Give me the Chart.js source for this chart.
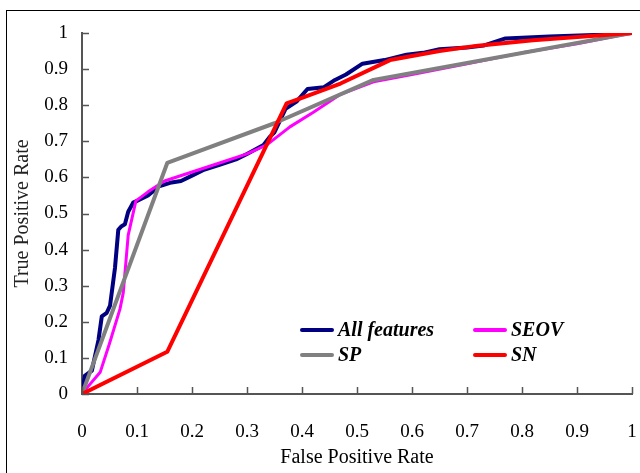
<!DOCTYPE html>
<html>
<head>
<meta charset="utf-8">
<script src="https://cdn.jsdelivr.net/npm/chart.js@4.4.1/dist/chart.umd.min.js"></script>
<style>
  html, body { margin: 0; padding: 0; background: #fff; }
  #wrap { width: 640px; height: 473px; position: relative; }
</style>
</head>
<body>
<div id="wrap"><canvas id="rocChart" width="640" height="473"></canvas></div>
<script>
// ROC curves, values
const allFpr = [0, 0.005, 0.018, 0.03, 0.036, 0.045, 0.051, 0.06, 0.066, 0.072, 0.078, 0.084, 0.093, 0.1,
  0.12, 0.14, 0.16, 0.18, 0.2, 0.22, 0.25, 0.28, 0.3, 0.33, 0.342, 0.35, 0.37, 0.39, 0.41, 0.44, 0.46, 0.48,
  0.51, 0.55, 0.59, 0.62, 0.65, 0.7, 0.73, 0.77, 0.85, 0.94, 1];
const allTpr = [0, 0.05, 0.065, 0.15, 0.215, 0.225, 0.245, 0.35, 0.455, 0.465, 0.47, 0.505, 0.53, 0.535,
  0.55, 0.575, 0.585, 0.59, 0.605, 0.62, 0.635, 0.65, 0.665, 0.69, 0.713, 0.725, 0.79, 0.81, 0.845, 0.85, 0.87, 0.885,
  0.915, 0.925, 0.94, 0.945, 0.955, 0.96, 0.965, 0.985, 0.99, 0.995, 1];

const seovFpr = [0, 0.005, 0.033, 0.05, 0.069, 0.075, 0.084, 0.098, 0.12, 0.15, 0.2, 0.25, 0.3, 0.336,
  0.378, 0.42, 0.47, 0.53, 0.6, 0.7, 0.8, 0.9, 1];
const seovTpr = [0, 0.01, 0.06, 0.14, 0.235, 0.28, 0.44, 0.535, 0.56, 0.59, 0.615, 0.64, 0.665, 0.69,
  0.74, 0.78, 0.83, 0.865, 0.885, 0.915, 0.945, 0.97, 1];

const spFpr = [0, 0.155, 0.35, 0.53, 1];
const spTpr = [0, 0.64, 0.75, 0.87, 1];

const snFpr = [0, 0.155, 0.372, 0.4, 0.47, 0.56, 0.65, 0.72, 0.82, 1];
const snTpr = [0, 0.117, 0.805, 0.82, 0.86, 0.925, 0.95, 0.965, 0.98, 1];

const tickLabels = ["0", "0.1", "0.2", "0.3", "0.4", "0.5", "0.6", "0.7", "0.8", "0.9", "1"];

function pts(xs, ys) {
  return xs.map((x, i) => ({ x: x, y: ys[i] }));
}

const serif = "'Liberation Serif', 'Times New Roman', serif";

// outer frame of the figure
const framePlugin = {
  id: "frame",
  beforeDraw(chart) {
    const c = chart.ctx;
    c.save();
    c.strokeStyle = "#000";
    c.lineWidth = 1;
    c.strokeRect(6.5, 10.5, 700, 500);
    c.restore();
  }
};

// ticks pointing into the plot
const innerTicks = {
  id: "innerTicks",
  afterDraw(chart) {
    const c = chart.ctx;
    const xs = chart.scales.x;
    const ys = chart.scales.y;
    c.save();
    c.strokeStyle = "#555";
    c.lineWidth = 1.5;
    c.beginPath();
    xs.ticks.forEach((t) => {
      const px = Math.round(xs.getPixelForValue(t.value)) + 0.5;
      c.moveTo(px, ys.bottom);
      c.lineTo(px, ys.bottom - 7);
    });
    ys.ticks.forEach((t) => {
      const py = Math.round(ys.getPixelForValue(t.value)) + 0.5;
      c.moveTo(xs.left, py);
      c.lineTo(xs.left + 7, py);
    });
    c.stroke();
    c.restore();
  }
};

// legend drawn inside the plot, 2 columns
const insideLegend = {
  id: "insideLegend",
  afterDraw(chart) {
    const c = chart.ctx;
    const spots = [[300, 330], [473, 330], [300, 355], [473, 355]];
    c.save();
    c.font = "italic bold 20px " + serif;
    c.textBaseline = "middle";
    c.fillStyle = "#000";
    chart.data.datasets.forEach((ds, i) => {
      const [lx, ly] = spots[i];
      c.strokeStyle = ds.borderColor;
      c.lineWidth = 4;
      c.lineCap = "round";
      c.beginPath();
      c.moveTo(lx + 2, ly);
      c.lineTo(lx + 32, ly);
      c.stroke();
      c.fillText(ds.label, lx + 38, ly + 1);
    });
    c.restore();
  }
};

new Chart(document.getElementById("rocChart"), {
  type: "line",
  data: {
    datasets: [
      { label: "All features", data: pts(allFpr, allTpr), borderColor: "#000080", borderWidth: 4, order: 4 },
      { label: "SEOV", data: pts(seovFpr, seovTpr), borderColor: "#ff00ff", borderWidth: 3, order: 3 },
      { label: "SP", data: pts(spFpr, spTpr), borderColor: "#808080", borderWidth: 4, order: 2 },
      { label: "SN", data: pts(snFpr, snTpr), borderColor: "#ff0000", borderWidth: 4, order: 1 }
    ]
  },
  options: {
    responsive: false,
    animation: false,
    layout: { padding: { left: 0, top: 33, right: 8, bottom: 0 } },
    elements: { point: { radius: 0 }, line: { tension: 0, fill: false, borderJoinStyle: "round" } },
    plugins: { legend: { display: false }, tooltip: { enabled: false } },
    scales: {
      x: {
        type: "linear",
        min: 0,
        max: 1,
        afterFit: (s) => { s.height = 473 - 394; s.paddingLeft = 0; s.paddingRight = 0; },
        ticks: {
          stepSize: 0.1,
          padding: 27,
          color: "#000",
          font: { family: serif, size: 19 },
          maxRotation: 0,
          callback: (v, i) => tickLabels[i]
        },
        grid: { drawOnChartArea: false, drawTicks: false },
        border: { display: true, color: "#555", width: 2 },
        title: { display: true, text: "False Positive Rate", color: "#000", font: { family: serif, size: 20 }, padding: { top: 0, bottom: 3 } }
      },
      y: {
        min: 0,
        max: 1,
        afterFit: (s) => { s.width = 82; s.paddingTop = 0; s.paddingBottom = 0; },
        ticks: {
          stepSize: 0.1,
          padding: 14,
          color: "#000",
          font: { family: serif, size: 19 },
          callback: (v, i) => tickLabels[i]
        },
        grid: { drawOnChartArea: false, drawTicks: false },
        border: { display: true, color: "#555", width: 2 },
        title: { display: true, text: "True Positive Rate", color: "#222", font: { family: serif, size: 20 }, padding: { top: 11, bottom: 0 } }
      }
    }
  },
  plugins: [framePlugin, innerTicks, insideLegend]
});
</script>
</body>
</html>
